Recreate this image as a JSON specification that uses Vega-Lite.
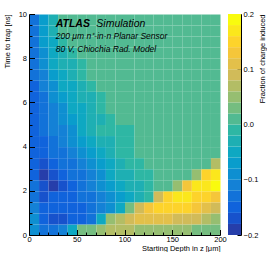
{
"$schema": "https://vega.github.io/schema/vega-lite/v6.json",
"padding": {"left": 3, "top": 10, "right": 0, "bottom": 0},
"background": "white",
"config": {"font": "Liberation Sans", "view": {"stroke": null},
  "axis": {"grid": false, "domainColor": "#000", "tickColor": "#000", "labelColor": "#000", "titleColor": "#000", "labelFontSize": 7.5, "titleFontSize": 7.5, "titleFontWeight": "normal", "labelFlush": false, "labelOverlap": false}},
"spacing": 1,
"datasets": {
"bar": [
{"lo":-0.2,"hi":-0.18,"m":-0.19},{"lo":-0.18,"hi":-0.16,"m":-0.17},{"lo":-0.16,"hi":-0.14,"m":-0.15},{"lo":-0.14,"hi":-0.12,"m":-0.13},{"lo":-0.12,"hi":-0.1,"m":-0.11},{"lo":-0.1,"hi":-0.08,"m":-0.09},{"lo":-0.08,"hi":-0.06,"m":-0.07},{"lo":-0.06,"hi":-0.04,"m":-0.05},{"lo":-0.04,"hi":-0.02,"m":-0.03},{"lo":-0.02,"hi":0,"m":-0.01},{"lo":0,"hi":0.02,"m":0.01},{"lo":0.02,"hi":0.04,"m":0.03},{"lo":0.04,"hi":0.06,"m":0.05},{"lo":0.06,"hi":0.08,"m":0.07},{"lo":0.08,"hi":0.1,"m":0.09},{"lo":0.1,"hi":0.12,"m":0.11},{"lo":0.12,"hi":0.14,"m":0.13},{"lo":0.14,"hi":0.16,"m":0.15},{"lo":0.16,"hi":0.18,"m":0.17},{"lo":0.18,"hi":0.2,"m":0.19}
],
"cells": [
{"x":5,"y":0.25,"v":-0.09},{"x":15,"y":0.25,"v":-0.13},{"x":25,"y":0.25,"v":-0.13},{"x":35,"y":0.25,"v":-0.11},{"x":45,"y":0.25,"v":-0.05},{"x":55,"y":0.25,"v":0.03},{"x":65,"y":0.25,"v":0.03},{"x":75,"y":0.25,"v":0.05},{"x":85,"y":0.25,"v":0.07},{"x":95,"y":0.25,"v":0.07},{"x":105,"y":0.25,"v":0.07},{"x":115,"y":0.25,"v":0.05},{"x":125,"y":0.25,"v":0.05},{"x":135,"y":0.25,"v":0.05},{"x":145,"y":0.25,"v":0.05},{"x":155,"y":0.25,"v":0.05},{"x":165,"y":0.25,"v":0.05},{"x":175,"y":0.25,"v":0.03},{"x":185,"y":0.25,"v":0.03},{"x":195,"y":0.25,"v":0.03},
{"x":5,"y":0.75,"v":-0.09},{"x":15,"y":0.75,"v":-0.15},{"x":25,"y":0.75,"v":-0.17},{"x":35,"y":0.75,"v":-0.17},{"x":45,"y":0.75,"v":-0.15},{"x":55,"y":0.75,"v":-0.15},{"x":65,"y":0.75,"v":-0.13},{"x":75,"y":0.75,"v":-0.05},{"x":85,"y":0.75,"v":0.05},{"x":95,"y":0.75,"v":0.07},{"x":105,"y":0.75,"v":0.09},{"x":115,"y":0.75,"v":0.11},{"x":125,"y":0.75,"v":0.11},{"x":135,"y":0.75,"v":0.11},{"x":145,"y":0.75,"v":0.11},{"x":155,"y":0.75,"v":0.09},{"x":165,"y":0.75,"v":0.09},{"x":175,"y":0.75,"v":0.09},{"x":185,"y":0.75,"v":0.07},{"x":195,"y":0.75,"v":0.05},
{"x":5,"y":1.25,"v":-0.11},{"x":15,"y":1.25,"v":-0.15},{"x":25,"y":1.25,"v":-0.15},{"x":35,"y":1.25,"v":-0.15},{"x":45,"y":1.25,"v":-0.15},{"x":55,"y":1.25,"v":-0.15},{"x":65,"y":1.25,"v":-0.13},{"x":75,"y":1.25,"v":-0.11},{"x":85,"y":1.25,"v":-0.09},{"x":95,"y":1.25,"v":-0.05},{"x":105,"y":1.25,"v":0.03},{"x":115,"y":1.25,"v":0.09},{"x":125,"y":1.25,"v":0.13},{"x":135,"y":1.25,"v":0.15},{"x":145,"y":1.25,"v":0.15},{"x":155,"y":1.25,"v":0.15},{"x":165,"y":1.25,"v":0.15},{"x":175,"y":1.25,"v":0.13},{"x":185,"y":1.25,"v":0.11},{"x":195,"y":1.25,"v":0.09},
{"x":5,"y":1.75,"v":-0.13},{"x":15,"y":1.75,"v":-0.17},{"x":25,"y":1.75,"v":-0.15},{"x":35,"y":1.75,"v":-0.15},{"x":45,"y":1.75,"v":-0.15},{"x":55,"y":1.75,"v":-0.13},{"x":65,"y":1.75,"v":-0.13},{"x":75,"y":1.75,"v":-0.11},{"x":85,"y":1.75,"v":-0.09},{"x":95,"y":1.75,"v":-0.07},{"x":105,"y":1.75,"v":-0.05},{"x":115,"y":1.75,"v":-0.03},{"x":125,"y":1.75,"v":-0.01},{"x":135,"y":1.75,"v":0.09},{"x":145,"y":1.75,"v":0.15},{"x":155,"y":1.75,"v":0.17},{"x":165,"y":1.75,"v":0.17},{"x":175,"y":1.75,"v":0.15},{"x":185,"y":1.75,"v":0.15},{"x":195,"y":1.75,"v":0.13},
{"x":5,"y":2.25,"v":-0.13},{"x":15,"y":2.25,"v":-0.17},{"x":25,"y":2.25,"v":-0.19},{"x":35,"y":2.25,"v":-0.17},{"x":45,"y":2.25,"v":-0.15},{"x":55,"y":2.25,"v":-0.13},{"x":65,"y":2.25,"v":-0.11},{"x":75,"y":2.25,"v":-0.09},{"x":85,"y":2.25,"v":-0.07},{"x":95,"y":2.25,"v":-0.05},{"x":105,"y":2.25,"v":-0.03},{"x":115,"y":2.25,"v":-0.03},{"x":125,"y":2.25,"v":-0.01},{"x":135,"y":2.25,"v":0},{"x":145,"y":2.25,"v":0},{"x":155,"y":2.25,"v":0.05},{"x":165,"y":2.25,"v":0.13},{"x":175,"y":2.25,"v":0.17},{"x":185,"y":2.25,"v":0.17},{"x":195,"y":2.25,"v":0.19},
{"x":5,"y":2.75,"v":-0.15},{"x":15,"y":2.75,"v":-0.19},{"x":25,"y":2.75,"v":-0.17},{"x":35,"y":2.75,"v":-0.15},{"x":45,"y":2.75,"v":-0.13},{"x":55,"y":2.75,"v":-0.13},{"x":65,"y":2.75,"v":-0.11},{"x":75,"y":2.75,"v":-0.09},{"x":85,"y":2.75,"v":-0.05},{"x":95,"y":2.75,"v":-0.03},{"x":105,"y":2.75,"v":-0.03},{"x":115,"y":2.75,"v":-0.01},{"x":125,"y":2.75,"v":-0.01},{"x":135,"y":2.75,"v":0},{"x":145,"y":2.75,"v":0},{"x":155,"y":2.75,"v":0},{"x":165,"y":2.75,"v":0},{"x":175,"y":2.75,"v":0.05},{"x":185,"y":2.75,"v":0.15},{"x":195,"y":2.75,"v":0.17},
{"x":5,"y":3.25,"v":-0.15},{"x":15,"y":3.25,"v":-0.17},{"x":25,"y":3.25,"v":-0.15},{"x":35,"y":3.25,"v":-0.13},{"x":45,"y":3.25,"v":-0.13},{"x":55,"y":3.25,"v":-0.11},{"x":65,"y":3.25,"v":-0.09},{"x":75,"y":3.25,"v":-0.07},{"x":85,"y":3.25,"v":-0.05},{"x":95,"y":3.25,"v":-0.03},{"x":105,"y":3.25,"v":-0.01},{"x":115,"y":3.25,"v":-0.01},{"x":125,"y":3.25,"v":0},{"x":135,"y":3.25,"v":0},{"x":145,"y":3.25,"v":0},{"x":155,"y":3.25,"v":0},{"x":165,"y":3.25,"v":0},{"x":175,"y":3.25,"v":0},{"x":185,"y":3.25,"v":0},{"x":195,"y":3.25,"v":0.07},
{"x":5,"y":3.75,"v":-0.15},{"x":15,"y":3.75,"v":-0.15},{"x":25,"y":3.75,"v":-0.13},{"x":35,"y":3.75,"v":-0.13},{"x":45,"y":3.75,"v":-0.11},{"x":55,"y":3.75,"v":-0.09},{"x":65,"y":3.75,"v":-0.07},{"x":75,"y":3.75,"v":-0.05},{"x":85,"y":3.75,"v":-0.03},{"x":95,"y":3.75,"v":-0.01},{"x":105,"y":3.75,"v":-0.01},{"x":115,"y":3.75,"v":0},{"x":125,"y":3.75,"v":0},{"x":135,"y":3.75,"v":0},{"x":145,"y":3.75,"v":0},{"x":155,"y":3.75,"v":0},{"x":165,"y":3.75,"v":0},{"x":175,"y":3.75,"v":0},{"x":185,"y":3.75,"v":0},{"x":195,"y":3.75,"v":0},
{"x":5,"y":4.25,"v":-0.15},{"x":15,"y":4.25,"v":-0.15},{"x":25,"y":4.25,"v":-0.13},{"x":35,"y":4.25,"v":-0.11},{"x":45,"y":4.25,"v":-0.09},{"x":55,"y":4.25,"v":-0.07},{"x":65,"y":4.25,"v":-0.05},{"x":75,"y":4.25,"v":-0.03},{"x":85,"y":4.25,"v":-0.03},{"x":95,"y":4.25,"v":-0.01},{"x":105,"y":4.25,"v":-0.01},{"x":115,"y":4.25,"v":0},{"x":125,"y":4.25,"v":0},{"x":135,"y":4.25,"v":0},{"x":145,"y":4.25,"v":0},{"x":155,"y":4.25,"v":0},{"x":165,"y":4.25,"v":0},{"x":175,"y":4.25,"v":0},{"x":185,"y":4.25,"v":0},{"x":195,"y":4.25,"v":0},
{"x":5,"y":4.75,"v":-0.15},{"x":15,"y":4.75,"v":-0.13},{"x":25,"y":4.75,"v":-0.11},{"x":35,"y":4.75,"v":-0.11},{"x":45,"y":4.75,"v":-0.09},{"x":55,"y":4.75,"v":-0.05},{"x":65,"y":4.75,"v":-0.03},{"x":75,"y":4.75,"v":-0.01},{"x":85,"y":4.75,"v":-0.01},{"x":95,"y":4.75,"v":-0.01},{"x":105,"y":4.75,"v":-0.01},{"x":115,"y":4.75,"v":0},{"x":125,"y":4.75,"v":0},{"x":135,"y":4.75,"v":0},{"x":145,"y":4.75,"v":0},{"x":155,"y":4.75,"v":0},{"x":165,"y":4.75,"v":0},{"x":175,"y":4.75,"v":0},{"x":185,"y":4.75,"v":0},{"x":195,"y":4.75,"v":0},
{"x":5,"y":5.25,"v":-0.15},{"x":15,"y":5.25,"v":-0.13},{"x":25,"y":5.25,"v":-0.11},{"x":35,"y":5.25,"v":-0.09},{"x":45,"y":5.25,"v":-0.07},{"x":55,"y":5.25,"v":-0.05},{"x":65,"y":5.25,"v":-0.03},{"x":75,"y":5.25,"v":-0.03},{"x":85,"y":5.25,"v":-0.01},{"x":95,"y":5.25,"v":0},{"x":105,"y":5.25,"v":0},{"x":115,"y":5.25,"v":0},{"x":125,"y":5.25,"v":0},{"x":135,"y":5.25,"v":0},{"x":145,"y":5.25,"v":0},{"x":155,"y":5.25,"v":0},{"x":165,"y":5.25,"v":0},{"x":175,"y":5.25,"v":0},{"x":185,"y":5.25,"v":0},{"x":195,"y":5.25,"v":0},
{"x":5,"y":5.75,"v":-0.15},{"x":15,"y":5.75,"v":-0.13},{"x":25,"y":5.75,"v":-0.11},{"x":35,"y":5.75,"v":-0.09},{"x":45,"y":5.75,"v":-0.05},{"x":55,"y":5.75,"v":-0.05},{"x":65,"y":5.75,"v":-0.03},{"x":75,"y":5.75,"v":-0.01},{"x":85,"y":5.75,"v":0},{"x":95,"y":5.75,"v":0},{"x":105,"y":5.75,"v":0},{"x":115,"y":5.75,"v":0},{"x":125,"y":5.75,"v":0},{"x":135,"y":5.75,"v":0},{"x":145,"y":5.75,"v":0},{"x":155,"y":5.75,"v":0},{"x":165,"y":5.75,"v":0},{"x":175,"y":5.75,"v":0},{"x":185,"y":5.75,"v":0},{"x":195,"y":5.75,"v":0},
{"x":5,"y":6.25,"v":-0.15},{"x":15,"y":6.25,"v":-0.13},{"x":25,"y":6.25,"v":-0.09},{"x":35,"y":6.25,"v":-0.07},{"x":45,"y":6.25,"v":-0.05},{"x":55,"y":6.25,"v":-0.03},{"x":65,"y":6.25,"v":-0.03},{"x":75,"y":6.25,"v":-0.01},{"x":85,"y":6.25,"v":0},{"x":95,"y":6.25,"v":0},{"x":105,"y":6.25,"v":0},{"x":115,"y":6.25,"v":0},{"x":125,"y":6.25,"v":0},{"x":135,"y":6.25,"v":0},{"x":145,"y":6.25,"v":0},{"x":155,"y":6.25,"v":0},{"x":165,"y":6.25,"v":0},{"x":175,"y":6.25,"v":0},{"x":185,"y":6.25,"v":0},{"x":195,"y":6.25,"v":0},
{"x":5,"y":6.75,"v":-0.15},{"x":15,"y":6.75,"v":-0.11},{"x":25,"y":6.75,"v":-0.09},{"x":35,"y":6.75,"v":-0.05},{"x":45,"y":6.75,"v":-0.05},{"x":55,"y":6.75,"v":-0.03},{"x":65,"y":6.75,"v":-0.01},{"x":75,"y":6.75,"v":0},{"x":85,"y":6.75,"v":0},{"x":95,"y":6.75,"v":0},{"x":105,"y":6.75,"v":0},{"x":115,"y":6.75,"v":0},{"x":125,"y":6.75,"v":0},{"x":135,"y":6.75,"v":0},{"x":145,"y":6.75,"v":0},{"x":155,"y":6.75,"v":0},{"x":165,"y":6.75,"v":0},{"x":175,"y":6.75,"v":0},{"x":185,"y":6.75,"v":0},{"x":195,"y":6.75,"v":0},
{"x":5,"y":7.25,"v":-0.13},{"x":15,"y":7.25,"v":-0.11},{"x":25,"y":7.25,"v":-0.07},{"x":35,"y":7.25,"v":-0.05},{"x":45,"y":7.25,"v":-0.03},{"x":55,"y":7.25,"v":-0.01},{"x":65,"y":7.25,"v":0},{"x":75,"y":7.25,"v":0},{"x":85,"y":7.25,"v":0},{"x":95,"y":7.25,"v":0},{"x":105,"y":7.25,"v":0},{"x":115,"y":7.25,"v":0},{"x":125,"y":7.25,"v":0},{"x":135,"y":7.25,"v":0},{"x":145,"y":7.25,"v":0},{"x":155,"y":7.25,"v":0},{"x":165,"y":7.25,"v":0},{"x":175,"y":7.25,"v":0},{"x":185,"y":7.25,"v":0},{"x":195,"y":7.25,"v":0},
{"x":5,"y":7.75,"v":-0.13},{"x":15,"y":7.75,"v":-0.09},{"x":25,"y":7.75,"v":-0.05},{"x":35,"y":7.75,"v":-0.03},{"x":45,"y":7.75,"v":-0.03},{"x":55,"y":7.75,"v":-0.01},{"x":65,"y":7.75,"v":0},{"x":75,"y":7.75,"v":0},{"x":85,"y":7.75,"v":0},{"x":95,"y":7.75,"v":0},{"x":105,"y":7.75,"v":0},{"x":115,"y":7.75,"v":0},{"x":125,"y":7.75,"v":0},{"x":135,"y":7.75,"v":0},{"x":145,"y":7.75,"v":0},{"x":155,"y":7.75,"v":0},{"x":165,"y":7.75,"v":0},{"x":175,"y":7.75,"v":0},{"x":185,"y":7.75,"v":0},{"x":195,"y":7.75,"v":0},
{"x":5,"y":8.25,"v":-0.13},{"x":15,"y":8.25,"v":-0.09},{"x":25,"y":8.25,"v":-0.05},{"x":35,"y":8.25,"v":-0.03},{"x":45,"y":8.25,"v":-0.01},{"x":55,"y":8.25,"v":0},{"x":65,"y":8.25,"v":0},{"x":75,"y":8.25,"v":0},{"x":85,"y":8.25,"v":0},{"x":95,"y":8.25,"v":0},{"x":105,"y":8.25,"v":0},{"x":115,"y":8.25,"v":0},{"x":125,"y":8.25,"v":0},{"x":135,"y":8.25,"v":0},{"x":145,"y":8.25,"v":0},{"x":155,"y":8.25,"v":0},{"x":165,"y":8.25,"v":0},{"x":175,"y":8.25,"v":0},{"x":185,"y":8.25,"v":0},{"x":195,"y":8.25,"v":0},
{"x":5,"y":8.75,"v":-0.13},{"x":15,"y":8.75,"v":-0.07},{"x":25,"y":8.75,"v":-0.05},{"x":35,"y":8.75,"v":-0.01},{"x":45,"y":8.75,"v":0},{"x":55,"y":8.75,"v":0},{"x":65,"y":8.75,"v":0},{"x":75,"y":8.75,"v":0},{"x":85,"y":8.75,"v":0},{"x":95,"y":8.75,"v":0},{"x":105,"y":8.75,"v":0},{"x":115,"y":8.75,"v":0},{"x":125,"y":8.75,"v":0},{"x":135,"y":8.75,"v":0},{"x":145,"y":8.75,"v":0},{"x":155,"y":8.75,"v":0},{"x":165,"y":8.75,"v":0},{"x":175,"y":8.75,"v":0},{"x":185,"y":8.75,"v":0},{"x":195,"y":8.75,"v":0},
{"x":5,"y":9.25,"v":-0.13},{"x":15,"y":9.25,"v":-0.07},{"x":25,"y":9.25,"v":-0.03},{"x":35,"y":9.25,"v":0},{"x":45,"y":9.25,"v":0},{"x":55,"y":9.25,"v":0},{"x":65,"y":9.25,"v":0},{"x":75,"y":9.25,"v":0},{"x":85,"y":9.25,"v":0},{"x":95,"y":9.25,"v":0},{"x":105,"y":9.25,"v":0},{"x":115,"y":9.25,"v":0},{"x":125,"y":9.25,"v":0},{"x":135,"y":9.25,"v":0},{"x":145,"y":9.25,"v":0},{"x":155,"y":9.25,"v":0},{"x":165,"y":9.25,"v":0},{"x":175,"y":9.25,"v":0},{"x":185,"y":9.25,"v":0},{"x":195,"y":9.25,"v":0},
{"x":5,"y":9.75,"v":-0.13},{"x":15,"y":9.75,"v":-0.07},{"x":25,"y":9.75,"v":-0.03},{"x":35,"y":9.75,"v":0},{"x":45,"y":9.75,"v":0},{"x":55,"y":9.75,"v":0},{"x":65,"y":9.75,"v":0},{"x":75,"y":9.75,"v":0},{"x":85,"y":9.75,"v":0},{"x":95,"y":9.75,"v":0},{"x":105,"y":9.75,"v":0},{"x":115,"y":9.75,"v":0},{"x":125,"y":9.75,"v":0},{"x":135,"y":9.75,"v":0},{"x":145,"y":9.75,"v":0},{"x":155,"y":9.75,"v":0},{"x":165,"y":9.75,"v":0},{"x":175,"y":9.75,"v":0},{"x":185,"y":9.75,"v":0},{"x":195,"y":9.75,"v":0}
]
},
"hconcat": [
{
"width": 191, "height": 221,
"layer": [
{"data": {"name": "cells"}, "mark": {"type": "rect"},
 "encoding": {
  "x": {"field": "x", "type": "quantitative", "bin": {"step": 10, "extent": [0, 200]}, "scale": {"domain": [0, 200], "nice": false, "zero": false},
    "axis": {"title": "Starting Depth in z [μm]", "titleAnchor": "end", "titlePadding": -1, "values": [0,10,20,30,40,50,60,70,80,90,100,110,120,130,140,150,160,170,180,190,200], "format": "d", "labelExpr": "datum.value % 50 === 0 ? datum.label : ''", "tickSize": {"condition": {"test": "datum.value % 50 === 0", "value": -5.5}, "value": -3}, "labelPadding": 5.5}},
  "y": {"field": "y", "type": "quantitative", "bin": {"step": 0.5, "extent": [0, 10]}, "scale": {"domain": [0, 10], "nice": false, "zero": false},
    "axis": {"title": "Time to trap [ns]", "titleAnchor": "end", "titlePadding": 6.5, "values": [0,0.5,1,1.5,2,2.5,3,3.5,4,4.5,5,5.5,6,6.5,7,7.5,8,8.5,9,9.5,10], "labelExpr": "datum.value % 2 === 0 ? format(datum.value, 'd') : ''", "tickSize": {"condition": {"test": "datum.value % 2 === 0", "value": -5.5}, "value": -3}, "labelPadding": 8}},
  "color": {"field": "v", "type": "quantitative", "scale": {"type": "quantize", "domain": [-0.2, 0.2], "nice": false, "zero": false, "range": ["#263eaa","#1752cc","#1063dc","#1272d9","#1481d6","#0e8fd1","#099dcc","#0ea8c2","#1eafb3","#2eb7a4","#52ba92","#75bd80","#96be71","#b3bd65","#d1bb59","#e3c04a","#f5c63a","#fdd32b","#fbe71c","#f9fb0e"]}, "legend": null}
 }},
{"data": {"values": [{"x": 28, "y": 9.41, "t": "ATLAS"}]}, "mark": {"type": "text", "align": "left", "baseline": "alphabetic", "fontSize": 10.5, "fontStyle": "italic", "fontWeight": "bold", "color": "#000"},
 "encoding": {"x": {"field": "x", "type": "quantitative"}, "y": {"field": "y", "type": "quantitative"}, "text": {"field": "t"}}},
{"data": {"values": [{"x": 70.5, "y": 9.41, "t": "Simulation"}]}, "mark": {"type": "text", "align": "left", "baseline": "alphabetic", "fontSize": 10.5, "fontStyle": "italic", "color": "#000"},
 "encoding": {"x": {"field": "x", "type": "quantitative"}, "y": {"field": "y", "type": "quantitative"}, "text": {"field": "t"}}},
{"data": {"values": [{"x": 28, "y": 8.89, "t": "200 μm n⁺-in-n Planar Sensor"}, {"x": 28, "y": 8.28, "t": "80 V, Chiochia Rad. Model"}]}, "mark": {"type": "text", "align": "left", "baseline": "alphabetic", "fontSize": 8.5, "fontStyle": "italic", "color": "#000"},
 "encoding": {"x": {"field": "x", "type": "quantitative"}, "y": {"field": "y", "type": "quantitative"}, "text": {"field": "t"}}}
]
},
{
"width": 13, "height": 221,
"data": {"name": "bar"},
"mark": {"type": "rect"},
"encoding": {
 "y": {"field": "lo", "type": "quantitative", "scale": {"domain": [-0.2, 0.2], "nice": false, "zero": false},
   "axis": {"orient": "right", "values": [-0.2, -0.1, 0, 0.1, 0.2], "tickSize": -4, "labelPadding": 6, "title": "Fraction of charge induced", "titleAnchor": "end", "titleAngle": 270, "titleAlign": "right", "titleBaseline": "top", "titlePadding": 1}},
 "y2": {"field": "hi"},
 "color": {"field": "m", "type": "quantitative", "scale": {"type": "quantize", "domain": [-0.2, 0.2], "nice": false, "zero": false, "range": ["#263eaa","#1752cc","#1063dc","#1272d9","#1481d6","#0e8fd1","#099dcc","#0ea8c2","#1eafb3","#2eb7a4","#52ba92","#75bd80","#96be71","#b3bd65","#d1bb59","#e3c04a","#f5c63a","#fdd32b","#fbe71c","#f9fb0e"]}, "legend": null}
}
}
]
}
